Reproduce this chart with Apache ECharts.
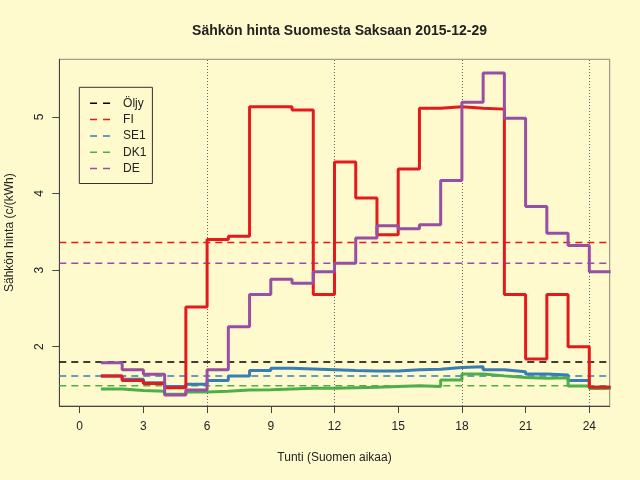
<!DOCTYPE html>
<html>
<head>
<meta charset="utf-8">
<script src="https://cdn.jsdelivr.net/npm/echarts@6/dist/echarts.min.js"></script>
<style>
  html, body { margin: 0; padding: 0; background: #FFFACD; }
  #chart { width: 640px; height: 480px; }
</style>
</head>
<body>
<div id="chart"></div>
<script>
// tunnit (Suomen aikaa), viimeinen piste 25 sulkee portaan
const hours = [1, 2, 3, 4, 5, 6, 7, 8, 9, 10, 11, 12, 13, 14, 15, 16, 17, 18, 19, 20, 21, 22, 23, 24, 25];

// tuntihinnat c/kWh
const fi  = [1.62, 1.56, 1.52, 1.465, 2.52, 3.40, 3.44, 5.13, 5.13, 5.09, 2.68, 4.41,
             3.94, 3.46, 4.32, 5.11, 5.13, 5.11, 5.10, 2.68, 1.84, 2.68, 2.00, 1.47, 1.47];
const se1 = [1.62, 1.575, 1.53, 1.48, 1.51, 1.56, 1.62, 1.69, 1.72, 1.71, 1.70, 1.69,
             1.685, 1.685, 1.70, 1.705, 1.73, 1.74, 1.70, 1.675, 1.645, 1.63, 1.56, 1.47, 1.47];
const dk1 = [1.45, 1.43, 1.42, 1.38, 1.41, 1.42, 1.435, 1.44, 1.45, 1.46, 1.46, 1.465,
             1.47, 1.48, 1.49, 1.48, 1.565, 1.645, 1.62, 1.60, 1.59, 1.595, 1.487, 1.455, 1.455];
const de  = [1.79, 1.70, 1.64, 1.37, 1.435, 1.70, 2.26, 2.68, 2.88, 2.83, 2.98, 3.09,
             3.42, 3.58, 3.54, 3.59, 4.17, 5.19, 5.57, 4.98, 3.83, 3.48, 3.32, 2.98, 2.98];

// keskiarvot (katkoviivat)
const meanNames  = ['Öljy', 'FI', 'SE1', 'DK1', 'DE'];
const meanValues = [1.80, 3.36, 1.62, 1.49, 3.09];

const xTicks = [0, 3, 6, 9, 12, 15, 18, 21, 24];
const yTicks = [2, 3, 4, 5];
const dayLines = [6, 12, 18, 24];

const colors = {
    'Öljy': '#000000',
    'FI': '#E41A1C',
    'SE1': '#377EB8',
    'DK1': '#4DAF4A',
    'DE': '#984EA3'
};

const xMin = -0.96, xMax = 24.96;
const yMin = 1.227, yMax = 5.75;

function stepSeries(name, values, z) {
    return {
        name: name + ' tunti',
        type: 'line',
        step: 'end',
        symbol: 'none',
        z: z,
        clip: true,
        lineStyle: { color: colors[name], width: 3 },
        data: hours.map((h, i) => [h, values[i]])
    };
}

function meanSeries(name, value) {
    return {
        name: name,
        type: 'line',
        symbol: 'none',
        z: 1,
        itemStyle: { color: colors[name] },
        lineStyle: { color: colors[name], width: 1.5, type: [7, 5] },
        data: [[xMin, value], [xMax, value]]
    };
}

const chart = echarts.init(document.getElementById('chart'));

const option = {
    backgroundColor: '#FFFACD',
    animation: false,
    textStyle: { fontFamily: 'Liberation Sans, Arial, sans-serif' },
    title: {
        text: 'Sähkön hinta Suomesta Saksaan 2015-12-29',
        left: 334.5,
        top: 19,
        textAlign: 'center',
        textStyle: { fontSize: 14, fontWeight: 'bold', color: '#222' }
    },
    legend: {
        orient: 'vertical',
        left: 79.3,
        top: 87.3,
        padding: [10, 6, 9, 10],
        borderColor: '#333',
        borderWidth: 1,
        itemWidth: 20,
        itemHeight: 10,
        itemGap: 4.3,
        data: meanNames,
        itemStyle: { opacity: 0 },
        lineStyle: { width: 1.5, type: [7, 6] },
        textStyle: { fontSize: 12, color: '#222', padding: [0, 0, 0, 8] }
    },
    grid: {
        left: 59.3,
        right: 30.3,
        top: 59.3,
        bottom: 74,
        outerBoundsMode: 'none',
        show: true,
        borderColor: '#8a8778',
        borderWidth: 1
    },
    xAxis: {
        type: 'value',
        min: xMin,
        max: xMax,
        name: 'Tunti (Suomen aikaa)',
        nameLocation: 'middle',
        nameGap: 46,
        nameTextStyle: { fontSize: 12, color: '#222' },
        axisLine: { show: true, onZero: false, lineStyle: { color: '#444' } },
        axisTick: { show: true, length: 7, customValues: xTicks, lineStyle: { color: '#444' } },
        axisLabel: { customValues: xTicks, fontSize: 12, color: '#222', margin: 15 },
        splitLine: { show: false }
    },
    yAxis: {
        type: 'value',
        min: yMin,
        max: yMax,
        name: 'Sähkön hinta (c/(kWh)',
        nameLocation: 'middle',
        nameGap: 44,
        nameRotate: 90,
        nameTextStyle: { fontSize: 12, color: '#222' },
        axisLine: { show: true, onZero: false, lineStyle: { color: '#444' } },
        axisTick: { show: true, length: 7, customValues: yTicks, lineStyle: { color: '#444' } },
        axisLabel: { customValues: yTicks, fontSize: 12, color: '#222', rotate: 90, margin: 14 },
        splitLine: { show: false }
    },
    series: [
        {
            name: 'päivät',
            type: 'line',
            data: [],
            markLine: {
                silent: true,
                symbol: 'none',
                label: { show: false },
                lineStyle: { color: '#666', width: 1, type: [1, 2] },
                data: dayLines.map(v => ({ xAxis: v }))
            }
        },
        ...meanNames.map((n, i) => meanSeries(n, meanValues[i])),
        stepSeries('SE1', se1, 3),
        stepSeries('DK1', dk1, 4),
        stepSeries('FI', fi, 5),
        stepSeries('DE', de, 6)
    ]
};

chart.setOption(option);
</script>
</body>
</html>
